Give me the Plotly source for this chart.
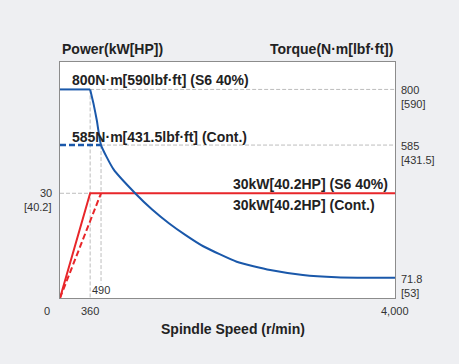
import plotly.graph_objects as go

# ---- data ----
speed_const_torque = [0, 360]
torque_s6_flat = [800, 800]
speed_curve = [360, 400, 440, 490, 640, 900, 1100, 1300, 1500, 1710, 2110, 2510, 2900, 3300, 3700, 4000]
torque_curve = [800, 745, 680, 585, 491, 398, 336, 283, 237, 194, 134, 102, 83, 74.5, 72.3, 71.8]
speed_cont_torque = [0, 490]
torque_cont = [585, 585]

speed_power_s6 = [0, 360, 4000]
power_s6 = [0, 30, 30]
speed_power_cont = [0, 490]
power_cont = [0, 30]

x_ticks = [0, 360, 4000]
x_tick_text = ["0", "360", "4,000"]
torque_ticks = [800, 585, 71.8]
torque_tick_text = [("800", "[590]"), ("585", "[431.5]"), ("71.8", "[53]")]
power_ticks = [30]
power_tick_text = [("30", "[40.2]")]

BLUE = "#1a58aa"
RED = "#e8262a"
GRAY = "#bdbdbd"
TXT = "#333333"
BG = "#eeeff2"
FONT = "Liberation Sans, Arial, sans-serif"

fig = go.Figure()

# torque curves (right axis)
fig.add_trace(go.Scatter(x=speed_const_torque, y=torque_s6_flat, yaxis="y2", mode="lines",
                         line=dict(color=BLUE, width=2), hoverinfo="skip"))
fig.add_trace(go.Scatter(x=speed_curve, y=torque_curve, yaxis="y2", mode="lines",
                         line=dict(color=BLUE, width=2, shape="spline", smoothing=0.5), hoverinfo="skip"))
fig.add_trace(go.Scatter(x=speed_cont_torque, y=torque_cont, yaxis="y2", mode="lines",
                         line=dict(color=BLUE, width=2.5, dash="6px,3px"), hoverinfo="skip"))
# power curves (left axis)
fig.add_trace(go.Scatter(x=speed_power_s6, y=power_s6, yaxis="y", mode="lines",
                         line=dict(color=RED, width=2), hoverinfo="skip"))
fig.add_trace(go.Scatter(x=speed_power_cont, y=power_cont, yaxis="y", mode="lines",
                         line=dict(color=RED, width=2, dash="6px,3px"), hoverinfo="skip"))

# reference dashed lines
ref = dict(color=GRAY, width=1, dash="4px,2px")
shapes = [
    dict(type="line", xref="x", yref="y2", x0=360, x1=4000, y0=800, y1=800, line=ref, layer="below"),
    dict(type="line", xref="x", yref="y2", x0=490, x1=4000, y0=585, y1=585, line=ref, layer="below"),
    dict(type="line", xref="x", yref="y2", x0=360, x1=360, y0=800, y1=-6, line=ref, layer="below"),
    dict(type="line", xref="x", yref="y2", x0=490, x1=490, y0=585, y1=50, line=ref, layer="below"),
    dict(type="line", xref="x", yref="y", x0=0, x1=360, y0=30, y1=30, line=ref, layer="below"),
]

ann = []
bold = dict(family=FONT, size=14, color="#222222")
small = dict(family=FONT, size=11, color=TXT)

# titles
ann.append(dict(text="<b>Power(kW[HP])</b>", xref="paper", yref="paper", x=0, y=1, xanchor="left",
                yanchor="bottom", yshift=3, showarrow=False, font=bold))
ann.append(dict(text="<b>Torque(N·m[lbf·ft])</b>", xref="paper", yref="paper", x=1, y=1, xanchor="right",
                yanchor="bottom", yshift=3, showarrow=False, font=bold))
ann.append(dict(text="<b>Spindle Speed (r/min)</b>", xref="paper", yref="paper", x=0.515, y=0, xanchor="center",
                yanchor="top", yshift=-21, showarrow=False, font=bold))

# curve labels
ann.append(dict(text="<b>800N·m[590lbf·ft] (S6 40%)</b>", xref="x", yref="y2", x=0, y=800, xshift=10,
                xanchor="left", yanchor="bottom", yshift=-1, showarrow=False, font=bold))
ann.append(dict(text="<b>585N·m[431.5lbf·ft] (Cont.)</b>", xref="x", yref="y2", x=0, y=585, xshift=10,
                xanchor="left", yanchor="bottom", yshift=-2, showarrow=False, font=bold))
ann.append(dict(text="<b>30kW[40.2HP] (S6 40%)</b>", xref="x", yref="y", x=4000, y=30, xshift=-5,
                xanchor="right", yanchor="bottom", yshift=-1, showarrow=False, font=bold))
ann.append(dict(text="<b>30kW[40.2HP] (Cont.)</b>", xref="x", yref="y", x=4000, y=30, xshift=-18,
                xanchor="right", yanchor="top", yshift=-2, showarrow=False, font=bold))

# x tick labels
x_shifts = [-13, 0, 0]
for v, t, s in zip(x_ticks, x_tick_text, x_shifts):
    ann.append(dict(text=t, xref="x", yref="paper", x=v, y=0, xanchor="center", yanchor="top",
                    xshift=s, yshift=-5, showarrow=False, font=small))
ann.append(dict(text="490", xref="x", yref="paper", x=490, y=0, xanchor="center", yanchor="bottom",
                yshift=0, showarrow=False, font=small))

# right tick labels (torque)
for v, (a, b) in zip(torque_ticks, torque_tick_text):
    ann.append(dict(text=a, xref="paper", yref="y2", x=1, y=v, xanchor="left", yanchor="middle",
                    xshift=4, yshift=-1, showarrow=False, font=small))
    ann.append(dict(text=b, xref="paper", yref="y2", x=1, y=v, xanchor="left", yanchor="middle",
                    xshift=4, yshift=-15, showarrow=False, font=small))
# left tick labels (power)
for v, (a, b) in zip(power_ticks, power_tick_text):
    ann.append(dict(text=a, xref="paper", yref="y", x=0, y=v, xanchor="right", yanchor="middle",
                    xshift=-6, yshift=0, showarrow=False, font=small))
    ann.append(dict(text=b, xref="paper", yref="y", x=0, y=v, xanchor="right", yanchor="middle",
                    xshift=-6, yshift=-14, showarrow=False, font=small))

axis_common = dict(showgrid=False, zeroline=False, showticklabels=False, ticks="")
fig.update_layout(
    width=459, height=364,
    margin=dict(l=60, r=64, t=62, b=66),
    paper_bgcolor=BG, plot_bgcolor="#ffffff",
    showlegend=False,
    xaxis=dict(range=[0, 4000], showline=True, linecolor="#8c8c8c", linewidth=1, mirror=True, **axis_common),
    yaxis=dict(range=[0, 67.6], showline=True, linecolor="#8c8c8c", linewidth=1, mirror=True, **axis_common),
    yaxis2=dict(range=[-6, 906], overlaying="y", side="right", showline=False, **axis_common),
    shapes=shapes,
    annotations=ann,
    font=dict(family=FONT),
)

fig.write_html("out.html", config={"displayModeBar": False},
               post_script="document.body.style.margin='0';document.body.style.background='%s';" % BG)
